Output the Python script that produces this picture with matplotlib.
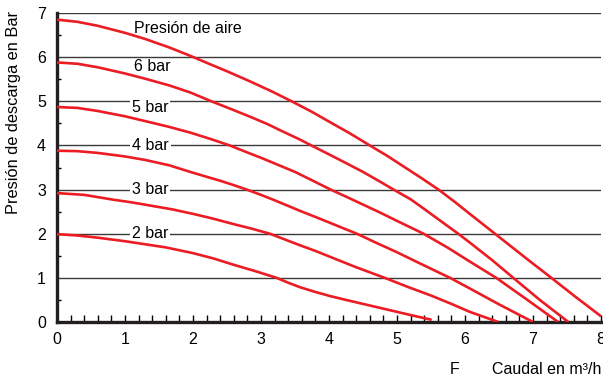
import numpy as np
import matplotlib.pyplot as plt
from matplotlib.ticker import MultipleLocator

plt.rcParams['font.family'] = ['Liberation Sans', 'DejaVu Sans']

# caudal (m3/h) y presion de descarga (bar)
x7 = [0, 0.3, 0.6, 1, 1.3, 1.65, 1.96, 2.25, 2.5, 2.84, 3.15, 3.45, 3.75, 4.0, 4.3, 4.6, 4.85, 5.1, 5.35, 5.61, 5.85, 6.07, 6.44, 6.96, 7.27, 7.6, 8.0]
y7 = [6.85, 6.8, 6.71, 6.55, 6.41, 6.22, 6.03, 5.84, 5.68, 5.45, 5.23, 5.0, 4.76, 4.54, 4.28, 4.0, 3.77, 3.52, 3.27, 3.0, 2.72, 2.45, 2.0, 1.37, 1.0, 0.6, 0.13]

x6 = [0, 0.3, 0.6, 1, 1.3, 1.65, 1.96, 2.27, 2.55, 2.84, 3.1, 3.3, 3.55, 3.74, 4.01, 4.25, 4.5, 4.75, 4.95, 5.2, 5.4, 5.65, 5.9, 6.07, 6.4, 6.71, 7.1, 7.52]
y6 = [5.88, 5.85, 5.77, 5.63, 5.51, 5.36, 5.2, 5.0, 4.83, 4.65, 4.48, 4.33, 4.15, 4.0, 3.79, 3.6, 3.4, 3.18, 3.0, 2.78, 2.56, 2.28, 2.0, 1.8, 1.4, 1.0, 0.5, 0.0]

x5 = [0, 0.3, 0.6, 1, 1.3, 1.65, 1.96, 2.25, 2.54, 2.8, 3.0, 3.25, 3.5, 3.75, 4.01, 4.25, 4.5, 4.75, 5.0, 5.39, 5.75, 6.07, 6.46, 6.9, 7.37]
y5 = [4.87, 4.85, 4.78, 4.66, 4.55, 4.42, 4.29, 4.15, 4.0, 3.84, 3.72, 3.56, 3.4, 3.21, 3.01, 2.84, 2.66, 2.48, 2.29, 2.0, 1.68, 1.37, 1.0, 0.52, 0.0]

x4 = [0, 0.3, 0.6, 1, 1.3, 1.65, 1.96, 2.2, 2.4, 2.6, 2.79, 3.0, 3.18, 3.4, 3.57, 3.8, 4.01, 4.2, 4.41, 4.7, 5.0, 5.4, 5.78, 6.07, 6.5, 7.0]
y4 = [3.88, 3.87, 3.83, 3.75, 3.67, 3.55, 3.4, 3.29, 3.2, 3.1, 3.0, 2.88, 2.77, 2.63, 2.52, 2.38, 2.25, 2.13, 2.0, 1.79, 1.58, 1.28, 1.0, 0.76, 0.4, 0.0]

x3 = [0, 0.4, 0.83, 1.1, 1.4, 1.7, 2.0, 2.3, 2.59, 2.85, 3.13, 3.35, 3.57, 3.8, 4.01, 4.4, 4.82, 5.15, 5.5, 5.8, 6.07, 6.49]
y3 = [2.92, 2.88, 2.77, 2.71, 2.63, 2.55, 2.45, 2.34, 2.22, 2.12, 2.0, 1.87, 1.74, 1.61, 1.48, 1.24, 1.0, 0.8, 0.6, 0.41, 0.23, 0.0]

x2 = [0, 0.3, 0.6, 1.0, 1.3, 1.6, 2.0, 2.3, 2.59, 2.9, 3.23, 3.4, 3.57, 3.8, 4.01, 4.25, 4.5, 4.75, 5.0, 5.25, 5.51]
y2 = [1.99, 1.96, 1.91, 1.83, 1.76, 1.69, 1.56, 1.44, 1.3, 1.16, 1.0, 0.89, 0.79, 0.68, 0.59, 0.5, 0.41, 0.32, 0.23, 0.14, 0.05]

etiquetas = ["Presión de aire", "6 bar", "5 bar", "4 bar", "3 bar", "2 bar"]
etiq_y = [6.64, 5.78, 4.86, 4.0, 3.0, 2.0]

rojo = '#ec1c24'

fig = plt.figure(figsize=(6.03, 3.78), dpi=100)
ax = fig.add_axes([57/603, 1 - 322/378, 544/603, 309/378])

for v in range(1, 8):
    ax.axhline(v, color='#3a3a3a', lw=1.0, zorder=1)

for xs, ys in [(x7, y7), (x6, y6), (x5, y5), (x4, y4), (x3, y3), (x2, y2)]:
    ax.plot(xs, ys, color=rojo, lw=1.9, zorder=3, solid_capstyle='butt',
            solid_joinstyle='round')

for i, (t, yy) in enumerate(zip(etiquetas, etiq_y)):
    if i >= 2:
        ax.text(1.1, yy, t, fontsize=11.5, va='center', ha='left', zorder=2,
                bbox=dict(facecolor='white', edgecolor='none', pad=1.5))
    else:
        ax.text(1.13, yy, t, fontsize=11.5, va='center', ha='left', zorder=2)

ax.set_xlim(0, 8)
ax.set_ylim(0, 7)
ax.spines['top'].set_visible(False)
ax.spines['right'].set_visible(False)
ax.spines['left'].set_linewidth(2.4)
ax.spines['bottom'].set_linewidth(2.4)
ax.spines['left'].set_color('#231f20')
ax.spines['bottom'].set_color('#231f20')

ax.xaxis.set_major_locator(MultipleLocator(1))
ax.xaxis.set_minor_locator(MultipleLocator(0.2))
ax.yaxis.set_major_locator(MultipleLocator(1))
ax.yaxis.set_minor_locator(MultipleLocator(0.5))
ax.tick_params(axis='x', which='both', direction='in', length=5, width=1, pad=7, labelsize=11.5)
ax.tick_params(axis='y', which='major', length=0, pad=8, labelsize=11.5)
ax.tick_params(axis='y', which='minor', direction='in', length=3, width=1)
ax.set_xticks(range(0, 9))
ax.set_yticks(range(0, 8))

fig.text(14/603, 1 - 113/378, "Presión de descarga en Bar", rotation=90,
         ha='center', va='center', fontsize=11.8)
fig.text(601/603, 1 - 370/378, "Caudal en m³/h", ha='right', va='center', fontsize=11.5)
fig.text(450/603, 1 - 370/378, "F", ha='left', va='center', fontsize=11.5)

fig.savefig("out.png", dpi=100)
